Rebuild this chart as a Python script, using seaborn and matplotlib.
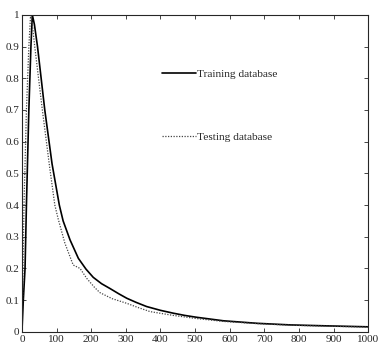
import matplotlib
matplotlib.use("Agg")
import matplotlib.pyplot as plt
import seaborn as sns
import pandas as pd

# ===============================
# 1. Data
# ===============================
train_x = [0, 4, 9, 13, 20, 26, 30, 36, 45, 66, 87, 108, 119, 139, 163, 185,
           206, 230, 254, 280, 303, 330, 360, 400, 437, 470, 505, 582, 680,
           775, 880, 1000]
train_y = [0.0, 0.1, 0.2, 0.4, 0.7, 0.9, 1.0, 0.97, 0.9, 0.7, 0.53, 0.40,
           0.35, 0.29, 0.232, 0.198, 0.172, 0.152, 0.137, 0.12, 0.106,
           0.093, 0.080, 0.068, 0.059, 0.052, 0.046, 0.035, 0.027, 0.022,
           0.019, 0.016]

test_x = [0, 2, 3, 6, 13, 20, 25, 30, 37, 59, 80, 95, 105, 124, 148, 168,
          187, 210, 225, 260, 303, 335, 370, 437, 505, 582, 680, 775, 880,
          1000]
test_y = [0.0, 0.1, 0.2, 0.4, 0.7, 0.9, 1.0, 0.97, 0.9, 0.7, 0.52, 0.40,
          0.355, 0.28, 0.211, 0.2, 0.169, 0.14, 0.124, 0.105, 0.090, 0.077,
          0.064, 0.052, 0.042, 0.033, 0.026, 0.021, 0.018, 0.015]

series_names = ["Training database", "Testing database"]

df = pd.concat([
    pd.DataFrame({"x": train_x, "y": train_y, "set": series_names[0]}),
    pd.DataFrame({"x": test_x, "y": test_y, "set": series_names[1]}),
])

# ===============================
# 2. Plot
# ===============================
sns.set_style("ticks")
plt.rcParams["font.family"] = ["Liberation Serif", "DejaVu Serif"]

fig = plt.figure(figsize=(3.78, 3.45), dpi=100)
ax = fig.add_axes([0.058, 0.038, 0.916, 0.919])

sns.lineplot(data=df, x="x", y="y", hue="set", style="set",
             palette=["black", "#444444"], dashes=[(None, None), (1, 1.2)],
             sort=False, estimator=None, ax=ax)
for ln, lw in zip(ax.lines, [1.2, 0.9]):
    ln.set_linewidth(lw)

ax.set_xlim(0, 1000)
ax.set_ylim(0, 1)
ax.set_xticks(range(0, 1001, 100))
ax.set_yticks([i / 10 for i in range(11)])
ax.set_yticklabels(["0"] + [f"0.{i}" for i in range(1, 10)] + ["1"])
ax.tick_params(direction="in", top=True, right=True, labelsize=8,
               length=3, width=0.6, pad=2)
for s in ax.spines.values():
    s.set_linewidth(0.8)
ax.set_xlabel("")
ax.set_ylabel("")

leg = ax.legend(loc="upper left", bbox_to_anchor=(0.405, 0.83), frameon=False,
                fontsize=8.2, handlelength=3.0, handletextpad=0.1,
                labelspacing=4.7, borderpad=0, borderaxespad=0)
for h, lw in zip(leg.get_lines(), [1.2, 0.9]):
    h.set_linewidth(lw)

fig.savefig("out.png", dpi=100)
